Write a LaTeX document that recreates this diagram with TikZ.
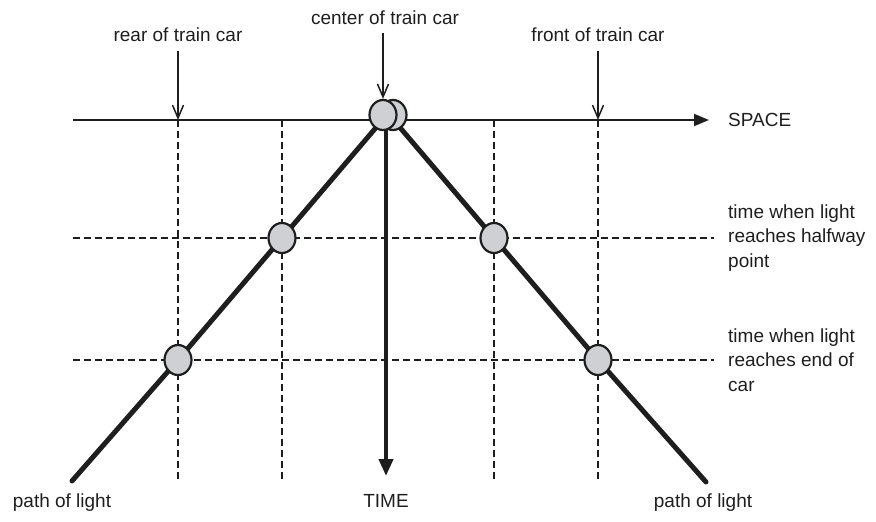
\documentclass[tikz,border=0pt]{standalone}
\usepackage{fontspec}
\setmainfont{Liberation Sans}
\usetikzlibrary{arrows.meta,shapes.geometric}
\definecolor{evgray}{RGB}{206,208,211}
\definecolor{ink}{RGB}{30,30,30}
\begin{document}
\begin{tikzpicture}[x=1pt,y=-1pt,
  gridline/.style={draw=ink,line width=1.8pt,dash pattern=on 7pt off 4pt},
  lightpath/.style={draw=ink,line width=5pt,line cap=round,line join=round},
  timearrow/.style={draw=ink,line width=4pt,-{Triangle[length=17pt,width=14pt]}},
  spacearrow/.style={draw=ink,line width=1.8pt,-{Triangle[length=15pt,width=12pt]}},
  event/.style={ellipse,draw=ink,line width=2.2pt,fill=evgray,minimum width=27pt,minimum height=30pt,inner sep=0pt},
  lbl/.style={font=\fontsize{19}{24.5}\selectfont,inner sep=0pt,text=ink},
  pointer/.style={draw=ink,line width=1.5pt,-{Straight Barb[length=13pt,width=11pt,line width=1.5pt]}}
]
\useasboundingbox (0,0) rectangle (876,522);

% labels
\node[lbl] (rear) at (178,35) {rear of train car};
\node[lbl] (center) at (385,18) {center of train car};
\node[lbl] (front) at (598,35) {front of train car};
\node[lbl,anchor=west] (space) at (728,120) {SPACE};
\node[lbl] (time) at (386,501) {TIME};
\node[lbl] (pathL) at (62,503) {path of light};
\node[lbl] (pathR) at (703,503) {path of light};
\node[lbl,anchor=west,align=left] (half) at (728,238) {time when light\\reaches halfway\\point};
\node[lbl,anchor=west,align=left] (endcar) at (728,360) {time when light\\reaches end of\\car};

% coordinates
\coordinate (sL) at (73,120);
\coordinate (sR) at (709,120);
\foreach \n/\x in {v1/178,v2/282,v3/494,v4/598}{
  \coordinate (\n top) at (\x,120);
  \coordinate (\n bot) at (\x,480);
}
\coordinate (hL1) at (73,238); \coordinate (hR1) at (714,238);
\coordinate (hL2) at (73,360); \coordinate (hR2) at (714,360);
\coordinate (oL) at (385,117);
\coordinate (oR) at (391,117);
\coordinate (Lend) at (72,481);
\coordinate (Rend) at (706,482);
\coordinate (tTop) at (386,118);
\coordinate (tEnd) at (386,476);
\coordinate (pRear) at (178,51);
\coordinate (pFront) at (598,51);
\coordinate (pCenter) at (383,33);

% grid
\foreach \n in {v1,v2,v3,v4}{\draw[gridline] (\n top) -- (\n bot);}
\draw[gridline] (hL1) -- (hR1);
\draw[gridline] (hL2) -- (hR2);

% space axis
\draw[spacearrow] (sL) -- (sR);

% event positions
\coordinate (h1c) at (282,238);
\coordinate (h2c) at (494,238);
\coordinate (e1c) at (178,360);
\coordinate (e2c) at (598,360);

% light paths
\draw[lightpath] (oL) -- (h1c) -- (e1c) -- (Lend);
\draw[lightpath] (oR) -- (h2c) -- (e2c) -- (Rend);

% time axis
\draw[timearrow] (tTop) -- (tEnd);

% events
\node[event] (c0b) at (393,115) {};
\node[event] (c0) at (383,115) {};
\node[event] (h1) at (h1c) {};
\node[event] (h2) at (h2c) {};
\node[event] (e1) at (e1c) {};
\node[event] (e2) at (e2c) {};

% pointers
\draw[pointer] (pRear) -- (v1top);
\draw[pointer] (pFront) -- (v4top);
\draw[pointer] (pCenter) -- (c0.north);
\end{tikzpicture}
\end{document}
